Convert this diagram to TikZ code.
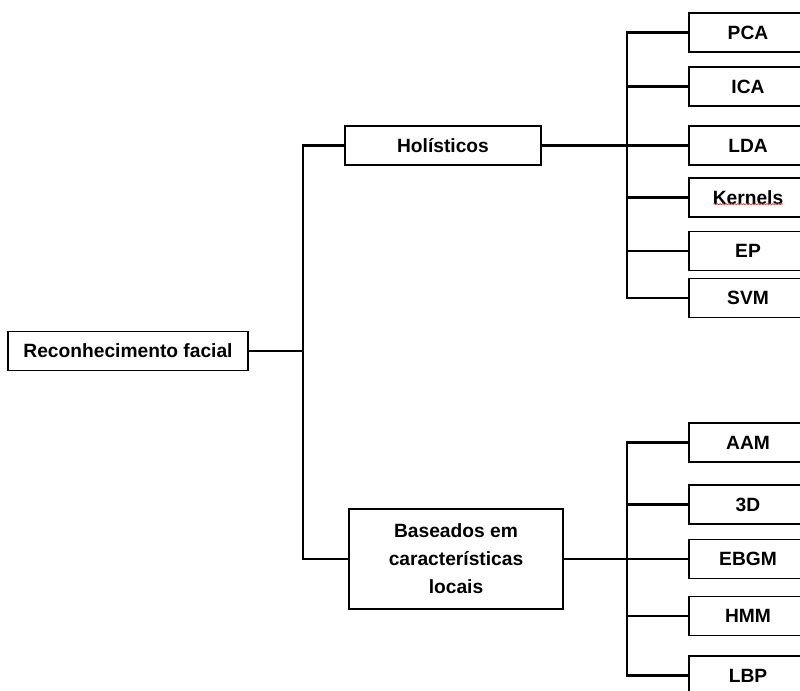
\documentclass[tikz,border=0pt]{standalone}
\usepackage{fontspec}
\setmainfont{Liberation Sans}
\usepackage{tikz}
\usetikzlibrary{positioning, calc, decorations.pathmorphing}

\begin{document}
\begin{tikzpicture}[
  x=0.75pt, y=-0.75pt,
  catnode/.style = {rectangle, draw=black, line width=1.4pt, fill=white,
    font=\fontsize{14.4}{21}\selectfont\bfseries, align=center, inner sep=0pt},
  leafnode/.style = {catnode, minimum width=88.5pt, minimum height=29.25pt},
  link/.style = {line width=2.2pt, line cap=rect},
  spell/.style = {red!80, line width=0.5pt, decorate,
    decoration={snake, amplitude=0.5pt, segment length=2.2pt}},
]
\useasboundingbox (0,0) rectangle (800,690);
\clip (0,0) rectangle (800,690);

% Root and the two categories
\node[catnode, minimum width=180pt, minimum height=29.25pt] (root) at (128,351) {Reconhecimento facial};
\node[catnode, minimum width=147pt, minimum height=29.25pt] (hol) at (443,145.5) {Holísticos};
\node[catnode, minimum width=160.5pt, minimum height=75pt] (loc) at (456,559)
  {Baseados em\\características\\locais};

% Holistic methods (top column)
\node[leafnode] (pca)  at (748,32.5)  {PCA};
\node[leafnode] (ica)  at (748,86.5)  {ICA};
\node[leafnode] (lda)  at (748,145.5) {LDA};
\node[leafnode] (kern) at (748,197.5) {Kernels};
\node[leafnode] (ep)   at (748,251)   {EP};
\node[leafnode] (svm)  at (748,298)   {SVM};

% Local feature methods (bottom column)
\node[leafnode] (aam)  at (748,442.5) {AAM};
\node[leafnode] (tdim) at (748,504.5) {3D};
\node[leafnode] (ebgm) at (748,559)   {EBGM};
\node[leafnode] (hmm)  at (748,616)   {HMM};
\node[leafnode] (lbp)  at (748,675.5) {LBP};

% Fork points
\coordinate (rfork) at (303,351);
\coordinate (hfork) at (627,0);

% Root -> categories
\draw[link] (root.east) -- (rfork);
\draw[link] (hol.west) -| (rfork) |- (loc.west);

% Holistic branch
\draw[link] (hol.east) -- (lda.west);
\draw[link] (pca.west) -| (hfork |- svm.west) -- (svm.west);
\foreach \n in {ica,kern,ep}
  \draw[link] (\n.west) -- (\n.west -| hfork);

% Local branch
\draw[link] (loc.east) -- (ebgm.west);
\draw[link] (aam.west) -| (hfork |- lbp.west) -- (lbp.west);
\foreach \n in {tdim,hmm}
  \draw[link] (\n.west) -- (\n.west -| hfork);

% Spell-check mark under Kernels
\draw[spell] ([xshift=-26pt,yshift=-5pt]kern.center) -- ([xshift=26pt,yshift=-5pt]kern.center);
\end{tikzpicture}
\end{document}
